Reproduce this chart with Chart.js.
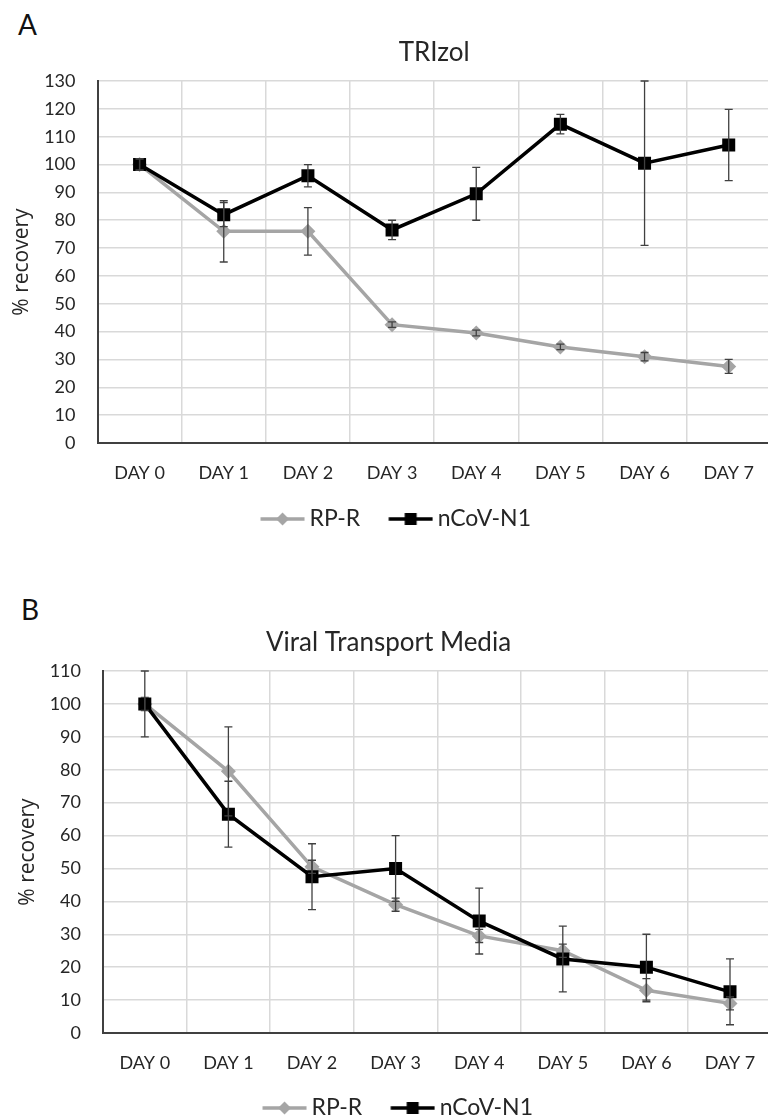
<!DOCTYPE html>
<html>
<head>
<meta charset="utf-8">
<script src="https://cdn.jsdelivr.net/npm/chart.js@4.4.1/dist/chart.umd.min.js"></script>
<style>
  html, body { margin:0; padding:0; background:#fff; overflow:hidden; width:768px; height:1120px; }
  canvas { position:absolute; }
  #chartA { left:-7px; top:0; }
  #chartB { left:-4px; top:550px; }
  .panel { position:absolute; font-family:Lato, sans-serif; font-size:28px; line-height:28px; color:#111; }
</style>
</head>
<body>
<div class="panel" style="left:18px; top:10px;">A</div>
<div class="panel" style="left:21px; top:595px;">B</div>
<canvas id="chartA" width="787" height="560"></canvas>
<canvas id="chartB" width="785" height="580"></canvas>
<script>
// values (% recovery)
const days = ['DAY 0', 'DAY 1', 'DAY 2', 'DAY 3', 'DAY 4', 'DAY 5', 'DAY 6', 'DAY 7'];

const trizolRpr    = [100, 76, 76, 42.5, 39.5, 34.5, 31, 27.5];
const trizolRprErr = [2, 11, 8.5, 1, 1, 1, 1.5, 2.5];
const trizolN1     = [100, 82, 96, 76.5, 89.5, 114.5, 100.5, 107];
const trizolN1Err  = [2, 4.3, 4, 3.5, 9.5, 3.5, 29.5, 12.8];

const vtmRpr    = [100, 79.5, 50.5, 39, 29.5, 25, 13, 9];
const vtmRprErr = [2, 13.5, 2, 2, 2, 2, 3.5, 2];
const vtmN1     = [100, 66.5, 47.5, 50, 34, 22.5, 20, 12.5];
const vtmN1Err  = [10, 10, 10, 10, 10, 10, 10, 10];

const GRAY = '#a5a5a5';
const BLACK = '#000000';
const TEXT = '#262626';

// error bars drawn through the chart's own scales
const errorBars = {
  id: 'errorBars',
  afterDatasetsDraw(chart) {
    const {ctx, scales: {x, y}} = chart;
    ctx.save();
    ctx.strokeStyle = '#404040';
    ctx.lineWidth = 1.3;
    chart.data.datasets.forEach(ds => {
      (ds.errors || []).forEach((e, i) => {
        const px = x.getPixelForValue(i);
        const top = y.getPixelForValue(ds.data[i] + e);
        const bot = y.getPixelForValue(ds.data[i] - e);
        ctx.beginPath();
        ctx.moveTo(px, top); ctx.lineTo(px, bot);
        ctx.moveTo(px - 4, top); ctx.lineTo(px + 4, top);
        ctx.moveTo(px - 4, bot); ctx.lineTo(px + 4, bot);
        ctx.stroke();
      });
    });
    ctx.restore();
  }
};

// legend symbol: line with marker, like the spreadsheet legend
function legendIcon(color, shape) {
  const c = document.createElement('canvas');
  c.width = 70; c.height = 22;
  const g = c.getContext('2d');
  g.strokeStyle = color; g.lineWidth = 3.5;
  g.beginPath(); g.moveTo(25.5, 11); g.lineTo(69.5, 11); g.stroke();
  g.fillStyle = color;
  if (shape === 'diamond') {
    g.beginPath();
    g.moveTo(47.5, 4.5); g.lineTo(54, 11); g.lineTo(47.5, 17.5); g.lineTo(41, 11);
    g.closePath(); g.fill();
  } else {
    g.fillRect(41.5, 5, 12, 12);
  }
  return c;
}

function makeChart(id, o) {
  const icons = [legendIcon(GRAY, 'diamond'), legendIcon(BLACK, 'square')];
  return new Chart(document.getElementById(id), {
    type: 'line',
    data: {
      labels: days,
      datasets: [{
        label: 'RP-R',
        data: o.rpr,
        errors: o.rprErr,
        borderColor: GRAY,
        backgroundColor: GRAY,
        borderWidth: 3.5,
        pointStyle: 'rectRot',
        pointRadius: 7.5,
        pointBorderWidth: 0,
        tension: 0,
        order: 2
      }, {
        label: 'nCoV-N1',
        data: o.n1,
        errors: o.n1Err,
        borderColor: BLACK,
        backgroundColor: BLACK,
        borderWidth: 3.5,
        pointStyle: 'rect',
        pointRadius: 9.2,
        pointBorderWidth: 0,
        tension: 0,
        order: 1
      }]
    },
    options: {
      responsive: false,
      animation: false,
      devicePixelRatio: 1,
      layout: {padding: {top: 0, left: 0, right: 0, bottom: o.padBottom}},
      plugins: {
        title: {
          display: true,
          text: o.title,
          fullSize: o.titleFull,
          color: TEXT,
          font: {family: 'Lato', size: 26, weight: 'normal'},
          padding: o.titlePad
        },
        legend: {
          position: 'bottom',
          labels: {
            usePointStyle: true,
            pointStyleWidth: 56,
            padding: 10,
            color: TEXT,
            font: {family: 'Lato', size: 23},
            sort: (a, b) => a.datasetIndex - b.datasetIndex,
            generateLabels(chart) {
              const items = Chart.defaults.plugins.legend.labels.generateLabels(chart);
              items.forEach(it => { it.pointStyle = icons[it.datasetIndex]; });
              return items;
            }
          }
        },
        tooltip: {enabled: false}
      },
      scales: {
        x: {
          offset: true,
          grid: {offset: true, color: '#d9d9d9', lineWidth: 1.5, drawTicks: false},
          border: {color: '#404040', width: 2},
          ticks: {color: TEXT, font: {family: 'Lato', size: 18}, padding: 19},
          afterFit: s => { s.height = o.xH; }
        },
        y: {
          min: 0,
          max: o.yMax,
          grid: {color: '#d9d9d9', lineWidth: 1.5, drawTicks: false},
          border: {color: '#404040', width: 2},
          ticks: {stepSize: 10, color: TEXT, font: {family: 'Lato', size: 18}, padding: 22},
          title: {
            display: true,
            text: '% recovery',
            color: TEXT,
            font: {family: 'Open Sans', size: 21},
            padding: {top: o.yTitlePad, bottom: 0}
          },
          afterFit: s => { s.width = o.yW; }
        }
      }
    },
    plugins: [errorBars]
  });
}

function draw() {
  makeChart('chartA', {
    rpr: trizolRpr, rprErr: trizolRprErr, n1: trizolN1, n1Err: trizolN1Err,
    yMax: 130, title: 'TRIzol', titleFull: false,
    titlePad: {top: 37.4, bottom: 12.4},
    xH: 54.5, yW: 104.5, yTitlePad: 16.4, padBottom: 19.5
  });
  makeChart('chartB', {
    rpr: vtmRpr, rprErr: vtmRprErr, n1: vtmN1, n1Err: vtmN1Err,
    yMax: 110, title: 'Viral Transport Media', titleFull: true,
    titlePad: {top: 77.4, bottom: 12.4},
    xH: 53.5, yW: 107, yTitlePad: 19.4, padBottom: 0.5
  });
}

if (document.fonts && document.fonts.load) {
  Promise.all([
    document.fonts.load('18px Lato'),
    document.fonts.load('21px "Open Sans"')
  ]).then(draw, draw);
} else {
  draw();
}
</script>
</body>
</html>
